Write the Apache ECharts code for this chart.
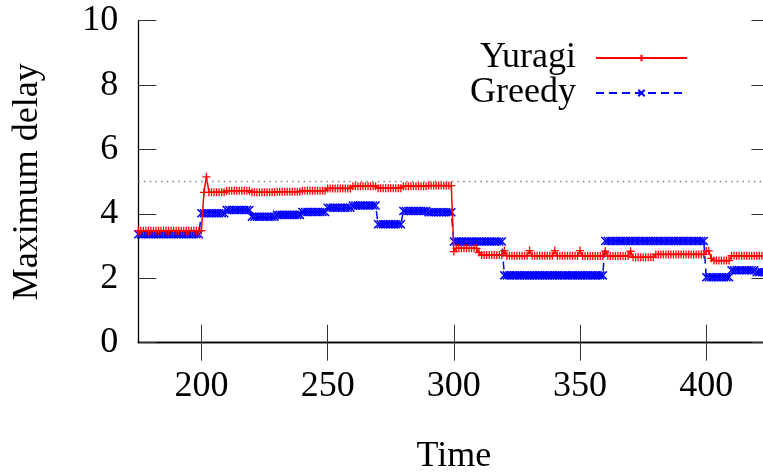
<!DOCTYPE html>
<html>
<head>
<meta charset="utf-8">
<script src="https://cdn.jsdelivr.net/npm/echarts@6/dist/echarts.min.js"></script>
<style>
  html, body { margin: 0; padding: 0; background: #fff; }
  #chart { width: 763px; height: 473px; }
</style>
</head>
<body>
<div id="chart"></div>
<script>
// ---- data ----
const seriesNames = ['Yuragi', 'Greedy'];
const timeStart = 175;   // first sample time
const timeEnd = 425;     // last sample time (one sample per time unit)
const xTickValues = [200, 250, 300, 350, 400];
const yTickValues = [0, 2, 4, 6, 8, 10];
const thresholdValue = 5;

// Yuragi: one value per time unit, 175 .. 425
const yuragi = [
  3.48, 3.48, 3.48, 3.48, 3.48,                                 // 175-179
  3.48, 3.48, 3.48, 3.48, 3.48, 3.48, 3.48, 3.48, 3.48, 3.48,   // 180-189
  3.48, 3.48, 3.48, 3.48, 3.48, 3.48, 3.48, 3.48, 3.48, 3.48,   // 190-199
  3.48, 4.67, 5.15, 4.67, 4.67, 4.67, 4.67, 4.67, 4.67, 4.67,   // 200-209
  4.72, 4.72, 4.72, 4.72, 4.72, 4.72, 4.72, 4.72, 4.72, 4.72,   // 210-219
  4.67, 4.67, 4.67, 4.67, 4.67, 4.67, 4.67, 4.67, 4.67, 4.67,   // 220-229
  4.69, 4.69, 4.69, 4.69, 4.69, 4.69, 4.69, 4.69, 4.69, 4.69,   // 230-239
  4.72, 4.72, 4.72, 4.72, 4.72, 4.72, 4.72, 4.72, 4.72, 4.72,   // 240-249
  4.79, 4.79, 4.79, 4.79, 4.79, 4.79, 4.79, 4.79, 4.79, 4.79,   // 250-259
  4.86, 4.86, 4.86, 4.86, 4.86, 4.86, 4.86, 4.86, 4.86, 4.86,   // 260-269
  4.80, 4.80, 4.80, 4.80, 4.80, 4.80, 4.80, 4.80, 4.80, 4.80,   // 270-279
  4.86, 4.86, 4.86, 4.86, 4.86, 4.86, 4.86, 4.86, 4.86, 4.86,   // 280-289
  4.88, 4.88, 4.88, 4.88, 4.88, 4.88, 4.88, 4.88, 4.88, 4.88,   // 290-299
  2.83, 2.93, 2.93, 2.93, 2.93, 2.93, 2.93, 2.93, 2.93, 2.93,   // 300-309
  2.80, 2.72, 2.72, 2.72, 2.72, 2.72, 2.72, 2.72, 2.72, 2.72,   // 310-319
  2.86, 2.70, 2.70, 2.70, 2.70, 2.70, 2.70, 2.70, 2.70, 2.70,   // 320-329
  2.86, 2.70, 2.70, 2.70, 2.70, 2.70, 2.70, 2.70, 2.70, 2.70,   // 330-339
  2.86, 2.70, 2.70, 2.70, 2.70, 2.70, 2.70, 2.70, 2.70, 2.70,   // 340-349
  2.86, 2.69, 2.69, 2.69, 2.69, 2.69, 2.69, 2.69, 2.69, 2.69,   // 350-359
  2.84, 2.69, 2.69, 2.69, 2.69, 2.69, 2.69, 2.69, 2.69, 2.69,   // 360-369
  2.84, 2.65, 2.65, 2.65, 2.65, 2.65, 2.65, 2.65, 2.65, 2.65,   // 370-379
  2.74, 2.74, 2.74, 2.74, 2.74, 2.74, 2.74, 2.74, 2.74, 2.74,   // 380-389
  2.74, 2.74, 2.74, 2.74, 2.74, 2.74, 2.74, 2.74, 2.74, 2.74,   // 390-399
  2.85, 2.85, 2.62, 2.55, 2.55, 2.55, 2.55, 2.55, 2.55, 2.55,   // 400-409
  2.70, 2.70, 2.70, 2.70, 2.70, 2.70, 2.70, 2.70, 2.70, 2.70,   // 410-419
  2.70, 2.70, 2.70, 2.70, 2.70, 2.70                            // 420-425
];

// Greedy: one value per time unit, 175 .. 425
const greedy = [
  3.37, 3.37, 3.37, 3.37, 3.37,                                 // 175-179
  3.37, 3.37, 3.37, 3.37, 3.37, 3.37, 3.37, 3.37, 3.37, 3.37,   // 180-189
  3.37, 3.37, 3.37, 3.37, 3.37, 3.37, 3.37, 3.37, 3.37, 3.37,   // 190-199
  4.02, 4.02, 4.02, 4.02, 4.02, 4.02, 4.02, 4.02, 4.02, 4.02,   // 200-209
  4.12, 4.12, 4.12, 4.12, 4.12, 4.12, 4.12, 4.12, 4.12, 4.12,   // 210-219
  3.91, 3.91, 3.91, 3.91, 3.91, 3.91, 3.91, 3.91, 3.91, 3.91,   // 220-229
  3.97, 3.97, 3.97, 3.97, 3.97, 3.97, 3.97, 3.97, 3.97, 3.97,   // 230-239
  4.06, 4.06, 4.06, 4.06, 4.06, 4.06, 4.06, 4.06, 4.06, 4.06,   // 240-249
  4.19, 4.19, 4.19, 4.19, 4.19, 4.19, 4.19, 4.19, 4.19, 4.19,   // 250-259
  4.26, 4.26, 4.26, 4.26, 4.26, 4.26, 4.26, 4.26, 4.26, 4.26,   // 260-269
  3.68, 3.68, 3.68, 3.68, 3.68, 3.68, 3.68, 3.68, 3.68, 3.68,   // 270-279
  4.09, 4.09, 4.09, 4.09, 4.09, 4.09, 4.09, 4.09, 4.09, 4.09,   // 280-289
  4.05, 4.05, 4.05, 4.05, 4.05, 4.05, 4.05, 4.05, 4.05, 4.05,   // 290-299
  3.14, 3.14, 3.14, 3.14, 3.14, 3.14, 3.14, 3.14, 3.14, 3.14,   // 300-309
  3.14, 3.14, 3.14, 3.14, 3.14, 3.14, 3.14, 3.14, 3.14, 3.14,   // 310-319
  2.09, 2.09, 2.09, 2.09, 2.09, 2.09, 2.09, 2.09, 2.09, 2.09,   // 320-329
  2.09, 2.09, 2.09, 2.09, 2.09, 2.09, 2.09, 2.09, 2.09, 2.09,   // 330-339
  2.09, 2.09, 2.09, 2.09, 2.09, 2.09, 2.09, 2.09, 2.09, 2.09,   // 340-349
  2.09, 2.09, 2.09, 2.09, 2.09, 2.09, 2.09, 2.09, 2.09, 2.09,   // 350-359
  3.16, 3.16, 3.16, 3.16, 3.16, 3.16, 3.16, 3.16, 3.16, 3.16,   // 360-369
  3.16, 3.16, 3.16, 3.16, 3.16, 3.16, 3.16, 3.16, 3.16, 3.16,   // 370-379
  3.16, 3.16, 3.16, 3.16, 3.16, 3.16, 3.16, 3.16, 3.16, 3.16,   // 380-389
  3.16, 3.16, 3.16, 3.16, 3.16, 3.16, 3.16, 3.16, 3.16, 3.16,   // 390-399
  2.03, 2.03, 2.03, 2.03, 2.03, 2.03, 2.03, 2.03, 2.03, 2.03,   // 400-409
  2.25, 2.25, 2.25, 2.25, 2.25, 2.25, 2.25, 2.25, 2.25, 2.25,   // 410-419
  2.19, 2.19, 2.19, 2.19, 2.19, 2.19                            // 420-425
];

// ---- chart ----
const times = [];
for (let t = timeStart; t <= timeEnd; t++) times.push(t);
const pair = (vals) => times.map((t, i) => [t, vals[i]]);

const FONT = '"Liberation Serif", "DejaVu Serif", serif';
const FS = 36;
const plusPath = 'path://M0,5L10,5M5,0L5,10';
const crossPath = 'path://M0,0L10,10M10,0L0,10';

const chart = echarts.init(document.getElementById('chart'), null, { renderer: 'canvas' });

const legendCommon = {
  orient: 'vertical',
  align: 'right',
  right: 75,
  padding: 0,
  itemWidth: 91,
  itemHeight: 8,
  selectedMode: false,
  textStyle: { fontFamily: FONT, fontSize: FS, color: '#000', padding: [0, 15, 0, 0] }
};

chart.setOption({
  animation: false,
  backgroundColor: '#fff',
  grid: { left: 138.3, top: 20.7, width: 631.1, height: 322, outerBoundsMode: 'none', containLabel: false },
  legend: [
    Object.assign({}, legendCommon, { data: [seriesNames[0]], top: 40 }),
    Object.assign({}, legendCommon, { data: [seriesNames[1]], top: 75 })
  ],
  xAxis: [
    {
      type: 'value', min: timeStart, max: timeEnd,
      name: 'Time', nameLocation: 'middle', nameGap: 96,
      nameTextStyle: { fontFamily: FONT, fontSize: FS, color: '#000' },
      axisLine: { show: true, lineStyle: { color: '#000', width: 1.3 } },
      axisTick: { show: true, inside: true, length: 18, customValues: xTickValues, lineStyle: { color: '#333', width: 1 } },
      axisLabel: { show: true, customValues: xTickValues, margin: 26, fontFamily: FONT, fontSize: FS, color: '#000' },
      splitLine: { show: false }
    },
    {
      type: 'value', min: timeStart, max: timeEnd, position: 'top',
      axisLine: { show: true, lineStyle: { color: '#000', width: 1.3 } },
      axisTick: { show: true, inside: true, length: 18, customValues: xTickValues, lineStyle: { color: '#333', width: 1 } },
      axisLabel: { show: false },
      splitLine: { show: false }
    }
  ],
  yAxis: [
    {
      type: 'value', min: 0, max: 10, interval: 2,
      name: 'Maximum delay', nameLocation: 'middle', nameGap: 93,
      nameTextStyle: { fontFamily: FONT, fontSize: FS, color: '#000' },
      axisLine: { show: true, lineStyle: { color: '#000', width: 1.3 } },
      axisTick: { show: true, inside: true, length: 18, customValues: yTickValues, lineStyle: { color: '#333', width: 1 } },
      axisLabel: { show: true, customValues: yTickValues, margin: 20, fontFamily: FONT, fontSize: FS, color: '#000' },
      splitLine: { show: false }
    },
    {
      type: 'value', min: 0, max: 10, interval: 2, position: 'right',
      axisLine: { show: true, lineStyle: { color: '#000', width: 1.3 } },
      axisTick: { show: true, inside: true, length: 18, customValues: yTickValues, lineStyle: { color: '#333', width: 1 } },
      axisLabel: { show: false },
      splitLine: { show: false }
    }
  ],
  series: [
    {
      name: seriesNames[0], type: 'line', data: pair(yuragi),
      symbol: plusPath, symbolSize: 8, showAllSymbol: true,
      itemStyle: { color: '#ff0000', borderColor: '#ff0000', borderWidth: 1.3 },
      lineStyle: { color: '#ff0000', width: 1.5, type: 'solid' },
      z: 3,
      markLine: {
        silent: true, symbol: ['none', 'none'], label: { show: false },
        lineStyle: { color: '#808080', width: 1.3, type: [1.5, 4.2] },
        data: [{ yAxis: thresholdValue }]
      }
    },
    {
      name: seriesNames[1], type: 'line', data: pair(greedy),
      symbol: crossPath, symbolSize: 8, showAllSymbol: true,
      itemStyle: { color: '#0000ff', borderColor: '#0000ff', borderWidth: 1.5 },
      lineStyle: { color: '#0000ff', width: 1.5, type: [8, 5] },
      z: 2
    }
  ]
});
</script>
</body>
</html>
